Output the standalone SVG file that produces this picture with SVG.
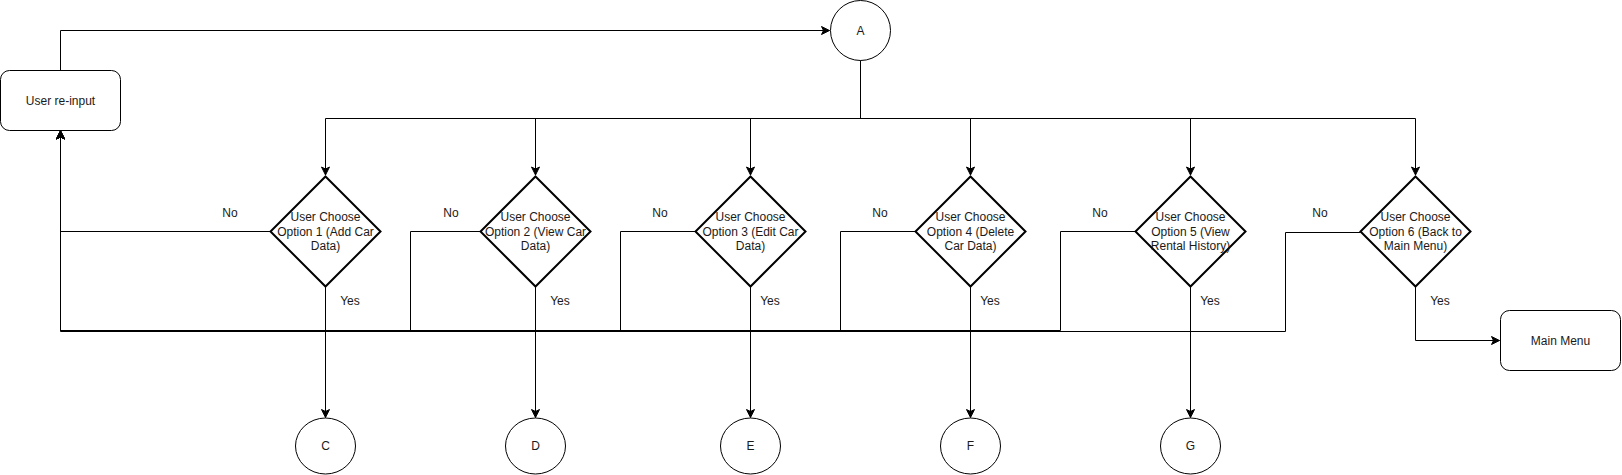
<svg xmlns="http://www.w3.org/2000/svg" width="1622" height="475" viewBox="0 0 1622 475">
<style>
  .shape { fill: #ffffff; stroke: #000000; stroke-width: 1; }
  .diamond { fill: #ffffff; stroke: #000000; stroke-width: 2; }
  .edge { fill: none; stroke: #000000; stroke-width: 1; }
  .arrow { marker-end: url(#arr); }
  text { font-family: "Liberation Sans", Arial, Helvetica, sans-serif; font-size: 12px; fill: #1a1a1a; text-anchor: middle; }
</style>
<defs>
  <marker id="arr" markerUnits="userSpaceOnUse" markerWidth="12" markerHeight="12" viewBox="-10 -6 12 12" refX="0" refY="0" orient="auto">
    <path d="M0,0 L-8,-4 L-6,0 L-8,4 Z" fill="#000000" stroke="#000000" stroke-width="1"/>
  </marker>
</defs>
<rect width="1622" height="475" fill="#ffffff"/>

<g id="connectors">
  <path class="edge arrow" d="M60.5,70.5 V30.5 H829.5"/>
  <path class="edge arrow" d="M860.5,60.5 V118.5 H325.5 V175"/>
  <path class="edge arrow" d="M860.5,60.5 V118.5 H535.5 V175"/>
  <path class="edge arrow" d="M860.5,60.5 V118.5 H750.5 V175"/>
  <path class="edge arrow" d="M860.5,60.5 V118.5 H970.5 V175"/>
  <path class="edge arrow" d="M860.5,60.5 V118.5 H1190.5 V175"/>
  <path class="edge arrow" d="M860.5,60.5 V118.5 H1415.5 V175"/>

  <path class="edge arrow" d="M270.5,231.5 H60.5 V131"/>
  <path class="edge arrow" d="M480.5,231.5 H410.5 V330.5 H60.5 V131"/>
  <path class="edge arrow" d="M695.5,231.5 H620.5 V330.5 H60.5 V131"/>
  <path class="edge arrow" d="M915.5,231.5 H840.5 V330.5 H60.5 V131"/>
  <path class="edge arrow" d="M1135.5,231.5 H1060.5 V330.5 H60.5 V131"/>
  <path class="edge arrow" d="M1360.5,232.5 H1285.5 V331.5 H60.5 V131"/>

  <path class="edge arrow" d="M325.5,286.5 V417.5"/>
  <path class="edge arrow" d="M535.5,286.5 V417.5"/>
  <path class="edge arrow" d="M750.5,286.5 V417.5"/>
  <path class="edge arrow" d="M970.5,286.5 V417.5"/>
  <path class="edge arrow" d="M1190.5,286.5 V417.5"/>
  <path class="edge arrow" d="M1415.5,286.5 V340.5 H1499.5"/>

  <text x="230" y="217">No</text>
  <text x="451" y="217">No</text>
  <text x="660" y="217">No</text>
  <text x="880" y="217">No</text>
  <text x="1100" y="217">No</text>
  <text x="1320" y="217">No</text>
  <text x="350" y="305">Yes</text>
  <text x="560" y="305">Yes</text>
  <text x="770" y="305">Yes</text>
  <text x="990" y="305">Yes</text>
  <text x="1210" y="305">Yes</text>
  <text x="1440" y="305">Yes</text>
</g>

<g id="user-reinput">
  <rect class="shape" x="0.5" y="70.5" width="120" height="60" rx="9" ry="9"/>
  <text x="60.5" y="104.5">User re-input</text>
</g>

<g id="node-A">
  <circle class="shape" cx="860.5" cy="30.5" r="30"/>
  <text x="860.5" y="34.5">A</text>
</g>

<g id="decision-1">
  <polygon class="diamond" points="325.5,176.5 380.5,231.5 325.5,286.5 270.5,231.5"/>
  <text x="325.5" y="221">User Choose</text>
  <text x="325.5" y="235.5">Option 1 (Add Car</text>
  <text x="325.5" y="250">Data)</text>
</g>
<g id="decision-2">
  <polygon class="diamond" points="535.5,176.5 590.5,231.5 535.5,286.5 480.5,231.5"/>
  <text x="535.5" y="221">User Choose</text>
  <text x="535.5" y="235.5">Option 2 (View Car</text>
  <text x="535.5" y="250">Data)</text>
</g>
<g id="decision-3">
  <polygon class="diamond" points="750.5,176.5 805.5,231.5 750.5,286.5 695.5,231.5"/>
  <text x="750.5" y="221">User Choose</text>
  <text x="750.5" y="235.5">Option 3 (Edit Car</text>
  <text x="750.5" y="250">Data)</text>
</g>
<g id="decision-4">
  <polygon class="diamond" points="970.5,176.5 1025.5,231.5 970.5,286.5 915.5,231.5"/>
  <text x="970.5" y="221">User Choose</text>
  <text x="970.5" y="235.5">Option 4 (Delete</text>
  <text x="970.5" y="250">Car Data)</text>
</g>
<g id="decision-5">
  <polygon class="diamond" points="1190.5,176.5 1245.5,231.5 1190.5,286.5 1135.5,231.5"/>
  <text x="1190.5" y="221">User Choose</text>
  <text x="1190.5" y="235.5">Option 5 (View</text>
  <text x="1190.5" y="250">Rental History)</text>
</g>
<g id="decision-6">
  <polygon class="diamond" points="1415.5,176.5 1470.5,231.5 1415.5,286.5 1360.5,231.5"/>
  <text x="1415.5" y="221">User Choose</text>
  <text x="1415.5" y="235.5">Option 6 (Back to</text>
  <text x="1415.5" y="250">Main Menu)</text>
</g>

<g id="main-menu">
  <rect class="shape" x="1500.5" y="310.5" width="120" height="60" rx="9" ry="9"/>
  <text x="1560.5" y="344.5">Main Menu</text>
</g>

<g id="node-C">
  <ellipse class="shape" cx="325.5" cy="446" rx="30" ry="28"/>
  <text x="325.5" y="450">C</text>
</g>
<g id="node-D">
  <ellipse class="shape" cx="535.5" cy="446" rx="30" ry="28"/>
  <text x="535.5" y="450">D</text>
</g>
<g id="node-E">
  <ellipse class="shape" cx="750.5" cy="446" rx="30" ry="28"/>
  <text x="750.5" y="450">E</text>
</g>
<g id="node-F">
  <ellipse class="shape" cx="970.5" cy="446" rx="30" ry="28"/>
  <text x="970.5" y="450">F</text>
</g>
<g id="node-G">
  <ellipse class="shape" cx="1190.5" cy="446" rx="30" ry="28"/>
  <text x="1190.5" y="450">G</text>
</g>
</svg>
